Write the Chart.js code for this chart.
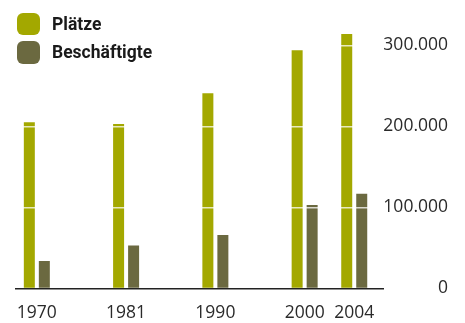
<!DOCTYPE html>
<html>
<head>
<meta charset="utf-8">
<script src="https://cdn.jsdelivr.net/npm/chart.js@4/dist/chart.umd.min.js"></script>
<style>
  html, body { margin: 0; padding: 0; background: #fff; }
  #wrap { position: relative; width: 465px; height: 323px; }
  #legend { position: absolute; left: 17px; top: 10px; font-family: Roboto, "Liberation Sans", sans-serif; font-weight: bold; font-size: 17.5px; color: #1a1a1a; }
  .item { display: flex; align-items: center; height: 28.3px; }
  .swatch { width: 23px; height: 22.5px; border-radius: 6px; margin-right: 12px; }
</style>
</head>
<body>
<div id="wrap">
  <canvas id="chart" width="465" height="323"></canvas>
  <div id="legend"></div>
</div>
<script>
// Ausbildungsplätze und Beschäftigte, ausgewählte Jahre
const years = ['1970', '1981', '1990', '2000', '2004'];
const plaetze = [205000, 203000, 241000, 294000, 314000];
const beschaeftigte = [34000, 53000, 66000, 103000, 117000];
const yTicks = [0, 100000, 200000, 300000];

const seriesNames = ['Plätze', 'Beschäftigte'];
const seriesColors = ['#a3a800', '#6b6940'];

// horizontal slots: equal spacing for the decades, tighter for the last year
const slotGaps = [0, 9, 9, 9, 5];
const slots = [];
slotGaps.reduce((acc, g) => { const v = acc + g; slots.push(v); return v; }, 0);

const fmt = v => v.toLocaleString('de-DE');

const legend = document.getElementById('legend');
seriesNames.forEach((name, i) => {
  const row = document.createElement('div');
  row.className = 'item';
  const sw = document.createElement('div');
  sw.className = 'swatch';
  sw.style.background = seriesColors[i];
  const txt = document.createElement('span');
  txt.textContent = name;
  row.appendChild(sw);
  row.appendChild(txt);
  legend.appendChild(row);
});

const toPoints = arr => arr.map((v, i) => ({ x: slots[i], y: v }));
const tickFont = { family: '"Open Sans", sans-serif', size: 17.5, weight: 400 };

new Chart(document.getElementById('chart'), {
  type: 'bar',
  data: {
    datasets: [
      { label: seriesNames[0], data: toPoints(plaetze), backgroundColor: seriesColors[0] },
      { label: seriesNames[1], data: toPoints(beschaeftigte), backgroundColor: seriesColors[1] }
    ]
  },
  options: {
    responsive: false,
    animation: false,
    layout: { padding: { top: 21, left: 16, right: 17, bottom: 0 } },
    datasets: { bar: { categoryPercentage: 0.605, barPercentage: 0.733 } },
    plugins: { legend: { display: false }, tooltip: { enabled: false } },
    scales: {
      x: {
        type: 'linear',
        offset: false,
        min: slots[0] - 2.1,
        max: slots[slots.length - 1] + 2.9,
        afterBuildTicks: s => { s.ticks = slots.map(v => ({ value: v })); },
        afterFit: s => { s.height = 34.5; },
        ticks: {
          autoSkip: false,
          maxRotation: 0,
          padding: 14,
          color: '#2a2a2a',
          font: tickFont,
          callback: (v) => years[slots.indexOf(v)]
        },
        grid: { display: false, drawTicks: false },
        border: { display: true, color: '#222', width: 1.5 }
      },
      y: {
        position: 'right',
        min: 0,
        max: 330000,
        afterBuildTicks: s => { s.ticks = yTicks.map(v => ({ value: v })); },
        afterFit: s => { s.width = 65; },
        ticks: {
          crossAlign: 'far',
          padding: 0,
          color: '#2a2a2a',
          font: tickFont,
          callback: v => fmt(v)
        },
        grid: {
          z: 1,
          drawTicks: false,
          lineWidth: 1.5,
          color: c => (c.tick && c.tick.value === 0) ? 'rgba(0,0,0,0)' : 'rgba(255,255,255,0.75)'
        },
        border: { display: false }
      }
    }
  }
});
</script>
</body>
</html>
